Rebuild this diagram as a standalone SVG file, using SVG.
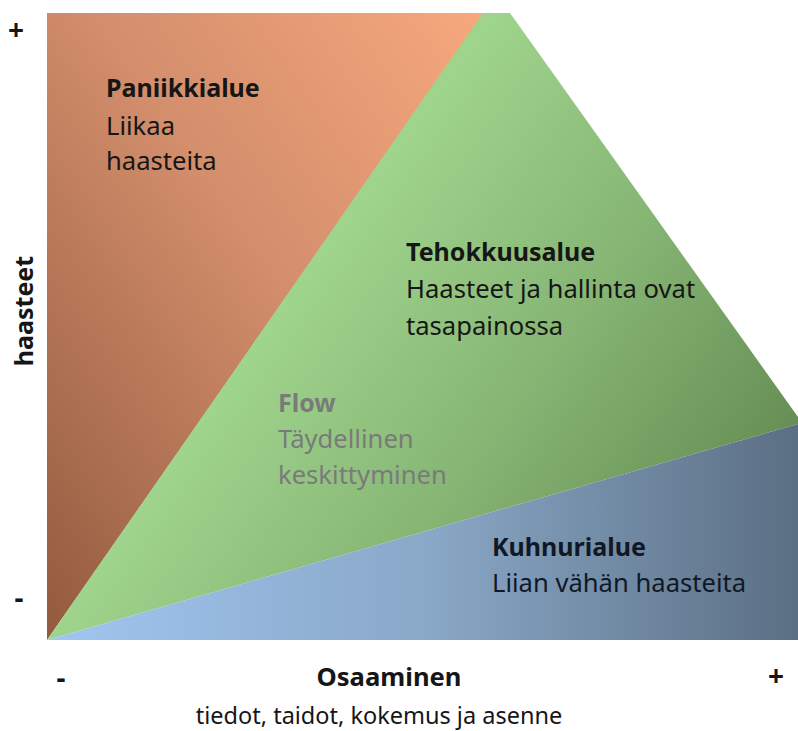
<svg xmlns="http://www.w3.org/2000/svg" width="798" height="731" viewBox="0 0 798 731">
<defs>
<linearGradient id="gOrange" x1="1" y1="0" x2="0" y2="1">
<stop offset="0" stop-color="#F7A87D"/>
<stop offset="0.45" stop-color="#D38E6C"/>
<stop offset="1" stop-color="#925A3E"/>
</linearGradient>
<linearGradient id="gGreen" gradientUnits="userSpaceOnUse" x1="272" y1="327" x2="663" y2="608">
<stop offset="0" stop-color="#9FD48C"/>
<stop offset="0.5" stop-color="#86B574"/>
<stop offset="1" stop-color="#678F55"/>
</linearGradient>
<linearGradient id="gBlue" gradientUnits="userSpaceOnUse" x1="47" y1="600" x2="798" y2="600">
<stop offset="0" stop-color="#A0C6F0"/>
<stop offset="0.5" stop-color="#8AA8C8"/>
<stop offset="1" stop-color="#5B6F83"/>
</linearGradient>
<style>
text{font-family:"Noto Sans","Liberation Sans",sans-serif;font-size:25.6px;fill:#161616}
.b{font-weight:bold;font-size:25px}
.flow{fill:#7a7a7a}
.navy{fill:#101827}
.ax{font-weight:bold;font-size:28px}
</style>
</defs>
<g id="panic">
<polygon points="47,13 484,13 47,640" fill="url(#gOrange)"/>
</g>
<g id="effic">
<polygon points="47,640 483,13 510,13 798,417 798,424" fill="url(#gGreen)"/>
</g>
<g id="bore">
<polygon points="47,640 798,424 798,640" fill="url(#gBlue)"/>
</g>
<g id="labels">
<text x="106" y="97" class="b">Paniikkialue</text>
<text x="106" y="135">Liikaa</text>
<text x="106" y="170">haasteita</text>
<text x="406" y="261" class="b">Tehokkuusalue</text>
<text x="406" y="298">Haasteet ja hallinta ovat</text>
<text x="406" y="335">tasapainossa</text>
<text x="278" y="412" class="b flow">Flow</text>
<text x="278" y="448" class="flow">Täydellinen</text>
<text x="278" y="484" class="flow">keskittyminen</text>
<text x="492" y="556" class="b navy">Kuhnurialue</text>
<text x="492" y="592" class="navy">Liian vähän haasteita</text>
</g>
<g id="axes">
<text x="16" y="40" class="ax" text-anchor="middle">+</text>
<text x="19" y="608" class="ax" text-anchor="middle">-</text>
<text x="0" y="0" class="b" text-anchor="middle" transform="translate(33,311) rotate(-90)">haasteet</text>
<text x="61" y="688" class="ax" text-anchor="middle">-</text>
<text x="389" y="686" class="b" text-anchor="middle" style="font-size:25.6px">Osaaminen</text>
<text x="776" y="686" class="ax" text-anchor="middle">+</text>
<text x="379" y="724" text-anchor="middle" style="font-size:23.5px">tiedot, taidot, kokemus ja asenne</text>
</g>
</svg>
